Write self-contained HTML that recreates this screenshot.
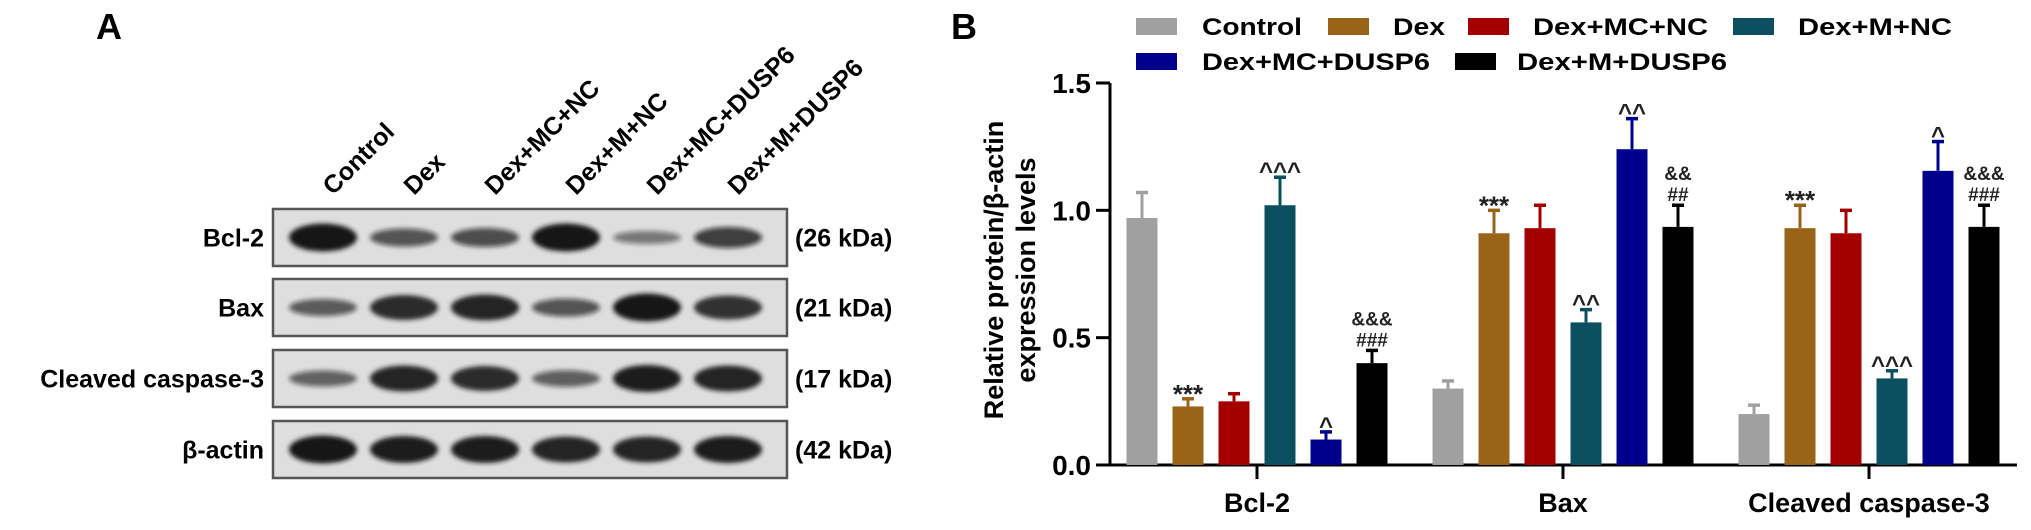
<!DOCTYPE html>
<html><head><meta charset="utf-8"><style>
html,body{margin:0;padding:0;background:#fff;}
svg{display:block;font-family:"Liberation Sans",Arial,sans-serif;font-weight:bold;}
</style></head><body>
<svg id="fig" width="2031" height="530" viewBox="0 0 2031 530" xmlns="http://www.w3.org/2000/svg">
<defs>
<filter id="blur" x="-20%" y="-50%" width="140%" height="200%"><feGaussianBlur stdDeviation="2.5"/></filter>
</defs>
<g id="panelA">
<text x="96" y="39" font-size="36">A</text>
</g>
<g id="panelB">
<text x="951" y="39" font-size="36">B</text>
</g>
</svg>
<script>
// ---- Blot data ----
const lanes = ["Control","Dex","Dex+MC+NC","Dex+M+NC","Dex+MC+DUSP6","Dex+M+DUSP6"];
const proteins = ["Bcl-2","Bax","Cleaved caspase-3","β-actin"];
const weights = ["(26 kDa)","(21 kDa)","(17 kDa)","(42 kDa)"];
const bcl2Bands = [1.0,0.5,0.55,1.0,0.25,0.65];
const baxBands = [0.45,0.85,0.9,0.5,1.0,0.8];
const caspBands = [0.4,0.9,0.85,0.42,0.95,0.9];
const actinBands = [1.0,0.95,0.95,0.9,0.9,0.95];
const bandSets = [bcl2Bands,baxBands,caspBands,actinBands];

// ---- Chart data ----
const groups = ["Bcl-2","Bax","Cleaved caspase-3"];
const seriesNames = ["Control","Dex","Dex+MC+NC","Dex+M+NC","Dex+MC+DUSP6","Dex+M+DUSP6"];
const controlVals = [0.97,0.30,0.20];
const dexVals = [0.23,0.91,0.93];
const mcncVals = [0.25,0.93,0.91];
const mncVals = [1.02,0.56,0.34];
const mcdVals = [0.10,1.24,1.155];
const mdVals = [0.40,0.935,0.935];
const controlErr = [0.10,0.03,0.035];
const dexErr = [0.03,0.09,0.09];
const mcncErr = [0.03,0.09,0.09];
const mncErr = [0.11,0.05,0.03];
const mcdErr = [0.03,0.12,0.115];
const mdErr = [0.05,0.085,0.085];
const controlMarks = ["","",""];
const dexMarks = ["***","***","***"];
const mcncMarks = ["","",""];
const mncMarks = ["^^^","^^","^^^"];
const mcdMarks = ["^","^^","^"];
const mdMarks = ["&&&|###","&&|##","&&&|###"];
const yTicks = [0,0.5,1.0,1.5];
const yTickLabels = ["0.0","0.5","1.0","1.5"];

const NS="http://www.w3.org/2000/svg";
const gA=document.getElementById('panelA');
const gB=document.getElementById('panelB');
function mk(tag,attrs,parent,text){const e=document.createElementNS(NS,tag);for(const k in attrs)e.setAttribute(k,attrs[k]);if(text!==undefined)e.textContent=text;parent.appendChild(e);return e;}

// ---- Panel A ----
const boxL=273,boxR=787,boxTops=[209,279,350,421],boxH=57;
const laneX=i=>323+i*81;
lanes.forEach((l,i)=>{
  const t=mk('text',{x:laneX(i)+10,y:196,'font-size':25,transform:`rotate(-45 ${laneX(i)+10} 196)`},gA,l);
  
  
});
proteins.forEach((p,r)=>{
  const y0=boxTops[r],cy=y0+boxH/2;
  const box=mk('rect',{x:boxL,y:y0,width:boxR-boxL,height:boxH,fill:'#dedede',stroke:'#555','stroke-width':2.5},gA);
  
  
  bandSets[r].forEach((v,i)=>{
    const b=mk('ellipse',{cx:laneX(i),cy:cy,rx:34,ry:4+v*10,fill:`rgba(20,20,20,${0.35+0.65*v})`,filter:'url(#blur)'},gA);
    
    
  });
  const lt=mk('text',{x:264,y:cy+9,'font-size':25,'text-anchor':'end'},gA,p);
  
  
  const wt=mk('text',{x:795,y:cy+9,'font-size':25},gA,weights[r]);
  
  
});

// ---- Panel B ----
const colors=['#a0a0a0','#9a6418','#a50000','#0b4f60','#00008c','#000000'];
const vals=[controlVals,dexVals,mcncVals,mncVals,mcdVals,mdVals];
const errs=[controlErr,dexErr,mcncErr,mncErr,mcdErr,mdErr];
const marks=[controlMarks,dexMarks,mcncMarks,mncMarks,mcdMarks,mdMarks];
const axX=1110,axY0=465,axY1=83,axEnd=2017;
const yS=v=>axY0-(axY0-axY1)*v/1.5;
const gx=g=>1257+g*306;
const bx=(g,s)=>gx(g)+(s-2.5)*46;
const bw=31;

const ya=mk('line',{x1:axX,y1:axY1,x2:axX,y2:axY0+1.5,stroke:'#000','stroke-width':3},gB);


const xa=mk('line',{x1:axX-14,y1:axY0,x2:axEnd,y2:axY0,stroke:'#000','stroke-width':3},gB);


yTicks.forEach((t,i)=>{
  const tk=mk('line',{x1:axX-14,y1:yS(t),x2:axX,y2:yS(t),stroke:'#000','stroke-width':3},gB);
  
  
  const tl=mk('text',{x:1091,y:yS(t)+10,'font-size':28,'text-anchor':'end'},gB,yTickLabels[i]);
  
  
});
const yt=mk('text',{'font-size':27,'text-anchor':'middle',transform:'translate(1003 270) rotate(-90)'},gB);


mk('tspan',{x:0,y:0},yt,'Relative protein/β-actin');
mk('tspan',{x:0,y:32},yt,'expression levels');

groups.forEach((g,gi)=>{
  const tk=mk('line',{x1:gx(gi),y1:axY0,x2:gx(gi),y2:axY0+14,stroke:'#000','stroke-width':3},gB);
  
  
  const gl=mk('text',{x:gx(gi),y:512,'font-size':27,'text-anchor':'middle'},gB,g);
  
  
  for(let s=0;s<6;s++){
    const v=vals[s][gi],e=errs[s][gi],cx=bx(gi,s);
    const r=mk('rect',{x:cx-bw/2,y:yS(v),width:bw,height:axY0-yS(v),fill:colors[s]},gB);
    
    
    const el=mk('line',{x1:cx,y1:yS(v),x2:cx,y2:yS(v+e),stroke:colors[s],'stroke-width':3},gB);
    
    
    const ec=mk('line',{x1:cx-6,y1:yS(v+e),x2:cx+6,y2:yS(v+e),stroke:colors[s],'stroke-width':3.5},gB);
    
    
    const m=marks[s][gi];
    if(m){
      const parts=m.split('|');
      const top=yS(v+e);
      parts.forEach((p,pi)=>{
        const isStar=p[0]==='*',isCaret=p[0]==='^';
        const fs=isStar?26:(isCaret?24:19);
        let yy;
        if(isStar) yy=top+4;
        else if(isCaret) yy=top+2;
        else yy=top-4-(parts.length-1-pi)*21;
        const mt=mk('text',{x:cx,y:yy,'font-size':fs,'text-anchor':'middle',fill:'#222'},gB,p);
        
        
      });
    }
  }
});

// legend
const legPos=[[1136,18,1202,35],[1328,18,1393,35],[1468,18,1533,35],[1733,18,1798,35],[1136,53,1202,70],[1455,53,1517,70]];
const legW=[100,52,175,154,228,210];
seriesNames.forEach((n,i)=>{
  const p=legPos[i];
  const sw=mk('rect',{x:p[0],y:p[1],width:41,height:17,fill:colors[i]},gB);
  
  
  const lt=mk('text',{x:p[2],y:p[3],'font-size':24,textLength:legW[i],lengthAdjust:'spacingAndGlyphs'},gB,n);
  
  
});
</script>
</body></html>
